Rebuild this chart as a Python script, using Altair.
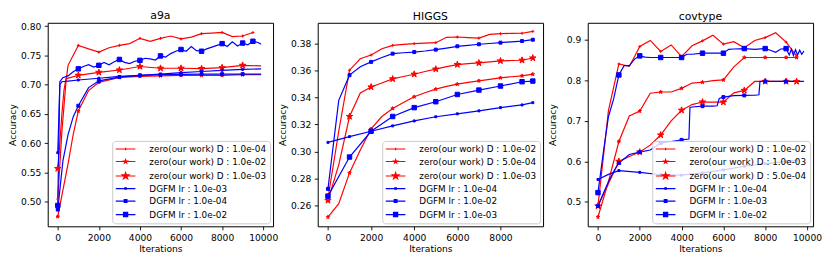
import math
import altair as alt
import pandas as pd

RED = "#ff0000"
BLUE = "#0000ff"
COLORS = [RED, RED, RED, BLUE, BLUE, BLUE]

# ---------------- a9a ----------------
A9A_LABELS = ["zero(our work) D : 1.0e-04", "zero(our work) D : 1.0e-02", "zero(our work) D : 1.0e-03",
              "DGFM lr : 1.0e-03", "DGFM lr : 1.0e-04", "DGFM lr : 1.0e-02"]
A9A_R1_IT = [0, 200, 400, 500, 1000, 1500, 2000, 2500, 3000, 3500, 4000, 4500, 5000, 5500, 6000, 6500,
             7000, 7500, 8000, 8500, 9000, 9500]
A9A_R1 = [0.505, 0.62, 0.705, 0.733, 0.767, 0.761, 0.7555, 0.763, 0.767, 0.770, 0.779, 0.774, 0.779, 0.783,
          0.778, 0.781, 0.787, 0.788, 0.789, 0.782, 0.783, 0.789]
A9A_R2_IT = [0, 250, 500, 750, 1000, 1500, 2000, 3000, 4000, 5000, 6000, 7000, 8000, 9000, 9900]
A9A_R2 = [0.475, 0.52, 0.565, 0.615, 0.655, 0.69, 0.704, 0.7125, 0.714, 0.715, 0.716, 0.716, 0.716, 0.717, 0.717]
A9A_R3_IT = [0, 100, 200, 300, 400, 1000, 2000, 3000, 4000, 5000, 6000, 7000, 8000, 9000, 9900]
A9A_R3 = [0.557, 0.60, 0.65, 0.69, 0.71, 0.716, 0.721, 0.725, 0.731, 0.728, 0.728, 0.7275, 0.729, 0.733, 0.732]
A9A_B1_IT = [0, 100, 200, 500, 1000, 2000, 3000, 4000, 5000, 6000, 7000, 8000, 9000, 9900]
A9A_B1 = [0.584, 0.70, 0.705, 0.706, 0.708, 0.711, 0.714, 0.716, 0.718, 0.7205, 0.7225, 0.7245, 0.726, 0.727]
A9A_B2_IT = [0, 250, 500, 750, 1000, 1500, 2000, 3000, 4000, 5000, 6000, 7000, 8000, 9000, 9900]
A9A_B2 = [0.487, 0.57, 0.615, 0.645, 0.664, 0.695, 0.7065, 0.713, 0.716, 0.717, 0.7175, 0.718, 0.718, 0.718, 0.718]
A9A_B3_IT = [0, 100, 250, 500, 750, 1000, 1250, 1500, 1750, 2000, 2250, 2500, 2750, 3000, 3250, 3500, 3750,
             4000, 4250, 4500, 4750, 5000, 5250, 5500, 5750, 6000, 6250, 6500, 6750, 7000, 7250, 7500, 7750,
             8000, 8250, 8500, 8750, 9000, 9250, 9500, 9750, 9900]
A9A_B3 = [0.494, 0.705, 0.712, 0.715, 0.722, 0.727, 0.731, 0.734, 0.730, 0.733, 0.738, 0.734, 0.739, 0.743,
          0.738, 0.736, 0.740, 0.7415, 0.745, 0.744, 0.742, 0.749, 0.747, 0.753, 0.757, 0.760, 0.757, 0.765,
          0.758, 0.757, 0.761, 0.764, 0.767, 0.770, 0.765, 0.773, 0.766, 0.771, 0.768, 0.774, 0.772, 0.769]

# ---------------- HIGGS ----------------
H_LABELS = ["zero(our work) D : 1.0e-02", "zero(our work) D : 5.0e-04", "zero(our work) D : 1.0e-03",
            "DGFM lr : 1.0e-04", "DGFM lr : 1.0e-02", "DGFM lr : 1.0e-03"]
H_IT = [0, 500, 1000, 1500, 2000, 2500, 3000, 3500, 4000, 4500, 5000, 5500, 6000, 6500, 7000, 7500,
        8000, 8500, 9000, 9500]
H_R1 = [0.265, 0.315, 0.3605, 0.369, 0.3718, 0.3765, 0.379, 0.3797, 0.3803, 0.3807, 0.381, 0.385, 0.3852,
        0.3848, 0.3844, 0.3872, 0.3877, 0.3879, 0.388, 0.3894]
H_R2 = [0.2511, 0.261, 0.284, 0.301, 0.3168, 0.326, 0.332, 0.3365, 0.3407, 0.3437, 0.3464, 0.3484, 0.3501,
        0.3514, 0.3526, 0.3537, 0.3548, 0.3556, 0.3563, 0.3575]
H_R3 = [0.2635, 0.29, 0.326, 0.3435, 0.348, 0.351, 0.354, 0.3558, 0.3575, 0.3595, 0.3613, 0.3632, 0.3647,
        0.3654, 0.3659, 0.3667, 0.3674, 0.3677, 0.3679, 0.3696]
H_B1_IT = [0, 1000, 2000, 3000, 4000, 5000, 6000, 7000, 8000, 9000, 9500]
H_B1 = [0.3067, 0.311, 0.315, 0.319, 0.3227, 0.3258, 0.328, 0.3302, 0.3326, 0.3346, 0.3363]
H_B2 = [0.2721, 0.338, 0.3568, 0.363, 0.3667, 0.370, 0.3728, 0.3735, 0.374, 0.3748, 0.3758, 0.377, 0.3783,
        0.379, 0.3798, 0.3804, 0.381, 0.3816, 0.3822, 0.3832]
H_B3_IT = [0, 1000, 2000, 3000, 4000, 5000, 6000, 7000, 8000, 9000, 9500]
H_B3 = [0.2667, 0.2958, 0.315, 0.326, 0.3326, 0.337, 0.3424, 0.3457, 0.3487, 0.3519, 0.3524]

# ---------------- covtype ----------------
C_LABELS = ["zero(our work) D : 1.0e-02", "zero(our work) D : 1.0e-03", "zero(our work) D : 5.0e-04",
            "DGFM lr : 1.0e-04", "DGFM lr : 1.0e-03", "DGFM lr : 1.0e-02"]
C_IT = [0, 500, 1000, 1500, 2000, 2500, 3000, 3500, 4000, 4500, 5000, 5500, 6000, 6500, 7000, 7500,
        8000, 8500, 9000, 9500]
C_R1 = [0.49, 0.725, 0.84, 0.834, 0.883, 0.898, 0.871, 0.887, 0.858, 0.885, 0.897, 0.911, 0.889, 0.895,
        0.880, 0.898, 0.905, 0.917, 0.894, 0.860]
C_R2 = [0.463, 0.55, 0.649, 0.712, 0.724, 0.768, 0.771, 0.771, 0.780, 0.793, 0.795, 0.799, 0.8007, 0.833,
        0.856, 0.856, 0.856, 0.856, 0.856, 0.856]
C_R3 = [0.49, 0.545, 0.600, 0.612, 0.623, 0.64, 0.665, 0.70, 0.726, 0.740, 0.7463, 0.746, 0.746, 0.769,
        0.775, 0.797, 0.797, 0.797, 0.797, 0.797]
C_B1_IT = [0, 500, 1000, 2000, 3000, 4000, 5000, 6000, 7000, 8000, 9000, 9500]
C_B1 = [0.5554, 0.568, 0.5773, 0.573, 0.567, 0.566, 0.5715, 0.579, 0.588, 0.594, 0.600, 0.602]
C_B2_IT = [0, 250, 500, 750, 1000, 1500, 2000, 2500, 3000, 3500, 4000, 4350, 4400, 4500, 5000, 5500, 5700,
           5800, 6000, 6500, 7000, 7500, 7700, 7750, 8000, 9000, 9850]
C_B2 = [0.49, 0.52, 0.55, 0.575, 0.596, 0.617, 0.6227, 0.628, 0.645, 0.649, 0.653, 0.655, 0.733, 0.734,
        0.736, 0.736, 0.737, 0.755, 0.7585, 0.762, 0.7626, 0.763, 0.764, 0.797, 0.797, 0.797, 0.797]
C_B3_IT = [0, 250, 500, 750, 1000, 1250, 1500, 1750, 2000, 2250, 2500, 3000, 3500, 4000, 4250, 4500, 5000,
           5500, 6000, 6250, 6500, 7000, 7500, 8000, 8250, 8500, 8750, 9000, 9150, 9250, 9350, 9450, 9550,
           9650, 9750, 9850]
C_B3 = [0.523, 0.62, 0.71, 0.754, 0.813, 0.836, 0.836, 0.852, 0.86, 0.857, 0.856, 0.856, 0.856, 0.856,
        0.864, 0.864, 0.8666, 0.8666, 0.8666, 0.876, 0.877, 0.878, 0.876, 0.878, 0.874, 0.869, 0.877, 0.878,
        0.862, 0.876, 0.861, 0.875, 0.862, 0.874, 0.864, 0.872]

FONT = "DejaVu Sans"


def star(r):
    pts = []
    for k in range(10):
        ang = math.radians(-90 + 36 * k)
        rad = r if k % 2 == 0 else r * 0.382
        pts.append((rad * math.cos(ang), rad * math.sin(ang)))
    return "M" + "L".join(f"{x:.3f},{y:.3f}" for x, y in pts) + "Z"


def square(h):
    return f"M{-h},{-h}L{h},{-h}L{h},{h}L{-h},{h}Z"


# marker styles used in the plot (shape, size) per legend position
PLOT_MARKS = [
    ("M-1,0L1,0M0,-1L0,1", 9),
    (star(1), 14),
    (star(1), 46),
    ("square", 4),
    ("square", 9),
    ("square", 20),
]
# legend symbols: line + marker (1 unit = 3px at symbolSize 36)
LINE = "M-3.3,0L3.3,0"
LEG_SHAPES = [
    LINE + "M0,-0.45L0,0.45",
    LINE + star(0.6),
    LINE + star(1.15),
    LINE + square(0.25),
    LINE + square(0.45),
    LINE + square(0.7),
]


def panel(title, labels, series, xdom, xticks, ydom, yticks, yfmt):
    rows = []
    for lab, (its, accs) in zip(labels, series):
        for i, a in zip(its, accs):
            rows.append({"series": lab, "it": i, "acc": a})
    df = pd.DataFrame(rows)
    cscale = alt.Scale(domain=labels, range=COLORS)
    sscale = alt.Scale(domain=labels, range=LEG_SHAPES)
    leg = alt.Legend(title=None, orient="bottom-right", offset=3, symbolOpacity=1)
    x = alt.X("it:Q", scale=alt.Scale(domain=xdom, nice=False, zero=False),
              axis=alt.Axis(title="Iterations", values=xticks, format="d"))
    y = alt.Y("acc:Q", scale=alt.Scale(domain=ydom, nice=False, zero=False),
              axis=alt.Axis(title="Accuracy", values=yticks, format=yfmt))
    base = alt.Chart(df)
    # invisible layer that only carries the legend (line + marker symbols)
    layers = [base.mark_point(filled=True, opacity=0).encode(
        x=x, y=y,
        fill=alt.Fill("series:N", scale=cscale, legend=leg),
        stroke=alt.Stroke("series:N", scale=cscale, legend=leg),
        shape=alt.Shape("series:N", scale=sscale, legend=leg),
    )]
    layers.append(base.mark_line(strokeWidth=1.2).encode(
        x=x, y=y, stroke=alt.Stroke("series:N", scale=cscale, legend=leg)))
    for lab, (shp, sz) in zip(labels, PLOT_MARKS):
        layers.append(
            base.transform_filter(
                (alt.datum.series == lab) & ((alt.datum.it % 1000 == 0) | (alt.datum.it == 9500))
            ).mark_point(shape=shp, size=sz, filled=True, strokeWidth=1, opacity=1).encode(
                x=x, y=y,
                fill=alt.Fill("series:N", scale=cscale, legend=leg),
                stroke=alt.Stroke("series:N", scale=cscale, legend=leg),
            )
        )
    return alt.layer(*layers).properties(
        width=227, height=205,
        title=alt.Title(title, fontSize=11, font=FONT, fontWeight="normal", color="black", offset=1),
    )


p1 = panel("a9a", A9A_LABELS,
           [(A9A_R1_IT, A9A_R1), (A9A_R2_IT, A9A_R2), (A9A_R3_IT, A9A_R3),
            (A9A_B1_IT, A9A_B1), (A9A_B2_IT, A9A_B2), (A9A_B3_IT, A9A_B3)],
           [-490, 10480], [0, 2000, 4000, 6000, 8000, 10000],
           [0.4585, 0.8055], [0.50, 0.55, 0.60, 0.65, 0.70, 0.75, 0.80], ".2f")
p2 = panel("HIGGS", H_LABELS,
           [(H_IT, H_R1), (H_IT, H_R2), (H_IT, H_R3),
            (H_B1_IT, H_B1), (H_IT, H_B2), (H_B3_IT, H_B3)],
           [-475, 9975], [0, 2000, 4000, 6000, 8000],
           [0.2442, 0.3958], [0.26, 0.28, 0.30, 0.32, 0.34, 0.36, 0.38], ".2f")
p3 = panel("covtype", C_LABELS,
           [(C_IT, C_R1), (C_IT, C_R2), (C_IT, C_R3),
            (C_B1_IT, C_B1), (C_B2_IT, C_B2), (C_B3_IT, C_B3)],
           [-490, 10290], [0, 2000, 4000, 6000, 8000, 10000],
           [0.4400, 0.9415], [0.5, 0.6, 0.7, 0.8, 0.9], ".1f")

chart = alt.hconcat(p1, p2, p3, spacing=45, bounds="flush").resolve_scale(
    fill="independent", stroke="independent", shape="independent"
).properties(padding=0).configure_view(
    stroke="black", strokeWidth=1
).configure_axis(
    domain=False, grid=False, tickColor="black", tickSize=3.5, tickWidth=0.9,
    labelPadding=3.5, labelFont=FONT, labelFontSize=9.2, labelColor="black",
    titleFont=FONT, titleFontSize=9.2, titleFontWeight="normal", titleColor="black",
).configure_axisY(
    minExtent=28, maxExtent=28, titlePadding=2,
).configure_axisX(
    titlePadding=2,
).configure_legend(
    labelFont=FONT, labelFontSize=8.9, labelColor="black", labelLimit=0,
    padding=3.7, fillColor="rgba(255,255,255,0.8)", strokeColor="#cccccc", cornerRadius=3,
    symbolSize=36, symbolStrokeWidth=1.2, rowPadding=2.6, symbolOffset=5.3, labelOffset=19.5,
)

chart.save("out.html", embed_options={"renderer": "svg", "actions": False})
